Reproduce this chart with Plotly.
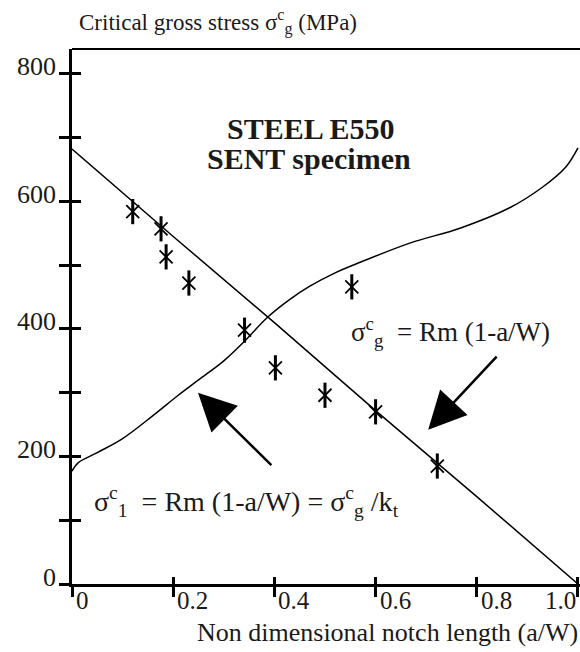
import plotly.graph_objects as go

# Gross-section critical stress, straight line Rm (1 - a/W)
a_gross = [0.0, 0.2, 0.4, 0.6, 0.8, 1.0]
s_gross = [682, 545, 410, 272, 137, 0]

# Local critical stress curve sigma_g / k_t
a_local = [0.0, 0.012, 0.05, 0.10, 0.16, 0.21, 0.25, 0.30, 0.34, 0.386, 0.43,
           0.47, 0.52, 0.571, 0.669, 0.767, 0.865, 0.931, 0.976, 1.0]
s_local = [177, 190, 206, 228, 264, 296, 320, 350, 380, 418, 446,
           467, 488, 505, 535, 558, 590, 623, 654, 684]

# Experimental results
a_test = [0.120, 0.176, 0.186, 0.231, 0.341, 0.402, 0.500, 0.553, 0.600, 0.722]
s_test = [584, 557, 513, 472, 398, 339, 296, 466, 270, 185]

x_ticks = [0.0, 0.2, 0.4, 0.6, 0.8, 1.0]
x_tick_text = ["0", "0.2", "0.4", "0.6", "0.8", "1.0"]
y_ticks = [0, 100, 200, 300, 400, 500, 600, 700, 800]
y_label_vals = [0, 200, 400, 600, 800]
y_label_text = ["0", "200", "400", "600", "800"]

SERIF = "Liberation Serif, Times New Roman, serif"
INK = "#1a1a1a"

fig = go.Figure()

fig.add_trace(go.Scatter(x=a_gross, y=s_gross, mode="lines",
                         line=dict(color="black", width=1.5), showlegend=False))
fig.add_trace(go.Scatter(x=a_local, y=s_local, mode="lines",
                         line=dict(color="black", width=1.5, shape="spline", smoothing=1.0),
                         showlegend=False))
# asterisk markers: vertical stroke plus a diagonal cross
fig.add_trace(go.Scatter(x=a_test, y=s_test, mode="markers",
                         marker=dict(symbol="line-ns-open", size=18, color="black",
                                     line=dict(color="black", width=3)),
                         showlegend=False))
fig.add_trace(go.Scatter(x=a_test, y=s_test, mode="markers",
                         marker=dict(symbol="x-thin-open", size=13, color="black",
                                     line=dict(color="black", width=1.8)),
                         showlegend=False))
# empty trace so the overlay axes (inner half of the ticks) are drawn
fig.add_trace(go.Scatter(x=[], y=[], xaxis="x2", yaxis="y2", showlegend=False))

axis_common = dict(showgrid=False, zeroline=False, tickcolor="black", tickwidth=3)

fig.update_layout(
    width=580, height=652,
    margin=dict(l=72, r=0, t=49, b=68),
    paper_bgcolor="white", plot_bgcolor="white",
    xaxis=dict(range=[0, 1.004], showline=True, linewidth=3, linecolor="black",
               ticks="outside", ticklen=10, tickvals=x_ticks, showticklabels=False,
               **axis_common),
    xaxis2=dict(overlaying="x", matches="x", anchor="y", ticks="inside", ticklen=7,
                tickvals=x_ticks, showticklabels=False, showline=False, **axis_common),
    yaxis=dict(range=[0, 839], showline=True, linewidth=3, linecolor="black",
               ticks="outside", ticklen=10, tickvals=y_ticks, showticklabels=False,
               **axis_common),
    yaxis2=dict(overlaying="y", matches="y", anchor="x", side="left", ticks="inside",
                ticklen=9, tickvals=y_ticks, showticklabels=False, showline=False,
                **axis_common),
)

# top frame line
fig.add_shape(type="line", xref="paper", yref="paper", x0=0, x1=1, y0=1, y1=1,
              line=dict(color="black", width=2))

# y tick labels, sitting just above their ticks
for v, t in zip(y_label_vals, y_label_text):
    fig.add_annotation(x=-0.027, y=v, xref="paper", yref="y", text=t, showarrow=False,
                       xanchor="right", yanchor="middle", yshift=7,
                       font=dict(family=SERIF, size=26, color=INK))

# x tick labels, set just right of each tick
for v, t in zip(x_ticks, x_tick_text):
    fig.add_annotation(x=v, y=-0.03, xref="x", yref="paper", text=t, showarrow=False,
                       xanchor="right" if v == 1.0 else "left",
                       xshift=2 if v < 1.0 else 0, yanchor="middle",
                       font=dict(family=SERIF, size=25, color=INK))

# axis titles
fig.add_annotation(x=0.01, y=1.05, xref="paper", yref="paper",
                   text="Critical gross stress σ<sup>c</sup><sub>g</sub> (MPa)",
                   showarrow=False, xanchor="left", yanchor="middle",
                   font=dict(family=SERIF, size=23, color=INK))
fig.add_annotation(x=1.0, y=-0.09, xref="paper", yref="paper",
                   text="Non dimensional notch length (a/W)",
                   showarrow=False, xanchor="right", yanchor="middle",
                   font=dict(family=SERIF, size=26, color=INK))

# material / specimen heading
fig.add_annotation(x=0.473, y=714, text="<b>STEEL E550</b>", showarrow=False,
                   xanchor="center", yanchor="middle",
                   font=dict(family=SERIF, size=30, color=INK))
fig.add_annotation(x=0.469, y=668, text="<b>SENT specimen</b>", showarrow=False,
                   xanchor="center", yanchor="middle",
                   font=dict(family=SERIF, size=30, color=INK))

# curve formulas
fig.add_annotation(x=0.548, y=395, text="σ<sup>c</sup><sub>g</sub>  = Rm (1-a/W)",
                   showarrow=False, xanchor="left", yanchor="middle",
                   font=dict(family=SERIF, size=27, color=INK))
fig.add_annotation(x=0.039, y=130,
                   text="σ<sup>c</sup><sub>1</sub>  = Rm (1-a/W) = σ<sup>c</sup><sub>g</sub> /k<sub>t</sub>",
                   showarrow=False, xanchor="left", yanchor="middle",
                   font=dict(family=SERIF, size=28, color=INK))

# pointers from the formulas to their curves
fig.add_annotation(x=0.249, y=300, ax=0.397, ay=184, xref="x", yref="y",
                   axref="x", ayref="y", text="", showarrow=True,
                   arrowhead=2, arrowsize=3, arrowwidth=2.5, arrowcolor="black")
fig.add_annotation(x=0.704, y=242, ax=0.842, ay=359, xref="x", yref="y",
                   axref="x", ayref="y", text="", showarrow=True,
                   arrowhead=2, arrowsize=3, arrowwidth=2.5, arrowcolor="black")

fig.write_html("out.html")
